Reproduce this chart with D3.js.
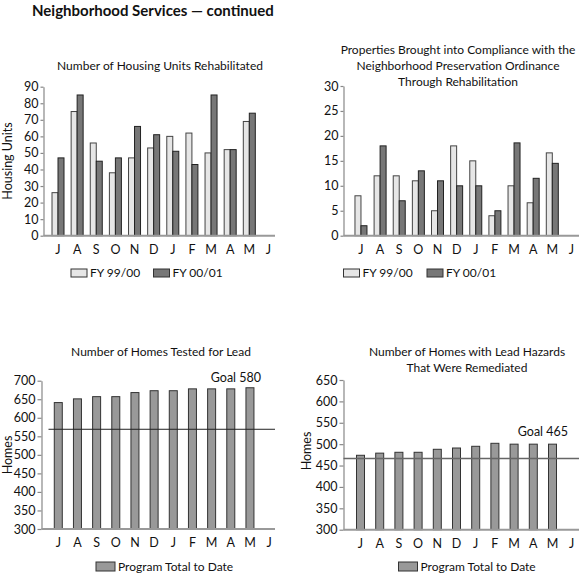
<!DOCTYPE html>
<html><head><meta charset="utf-8">
<script src="https://cdn.jsdelivr.net/npm/d3@7"></script>
<style>
body{margin:0;background:#fff;}
text{font-family:Lato,"Open Sans",sans-serif;fill:#111;}
</style></head>
<body>
<svg id="c" width="579" height="575"></svg>
<script>
const months = ["J","A","S","O","N","D","J","F","M","A","M","J"];
const monthKeys = months.map((m,i)=>i);
const seriesNames = ["FY 99/00","FY 00/01"];
const rehabFY9900 = [26,75,56,38,47,53,60,62,50,52,69];
const rehabFY0001 = [47,85,45,47,66,61,51,43,85,52,74];
const complFY9900 = [8,12,12,11,5,18,15,4,10,6.6,16.6];
const complFY0001 = [2,18,7,13,11,10,10,5,18.6,11.5,14.5];
const leadTested = [641,651,657,657,668,673,673,678,678,678,681];
const leadRemediated = [474,479,481,481,488,491,495,502,500,500,500];
const ticksRehab = d3.range(0,91,10);
const ticksCompl = d3.range(0,31,5);
const ticksTested = d3.range(300,701,50);
const ticksRemed = d3.range(300,651,50);
const goalTested = {label:"Goal 580", line:569};
const goalRemed = {label:"Goal 465", line:466.5};
const legendBottom = "Program Total to Date";

const svg = d3.select("#c");
const LIGHT="#e6e6e6", DARK="#777", MID="#999";

svg.append("text").attr("x",32).attr("y",16).attr("font-size",15).attr("font-weight","bold")
  .text("Neighborhood Services \u2014 continued");

function chart(o){
  const g = svg.append("g");
  const x = d3.scaleBand().domain(monthKeys).range(o.band);
  const y = d3.scaleLinear().domain(o.domain).range(o.yr);
  const ya = g.append("g").attr("transform",`translate(${o.ax},0)`)
    .call(d3.axisLeft(y).tickValues(o.ticks).tickSize(o.tick||3).tickPadding(2).tickSizeOuter(0));
  ya.select(".domain").attr("stroke","#888").attr("stroke-width",1.2);
  ya.selectAll(".tick line").attr("stroke","#888").attr("stroke-width",1.2);
  ya.selectAll(".tick text").attr("font-size",12.5).attr("font-family","Lato,sans-serif").attr("fill","#111");
  const xa = g.append("g").attr("transform",`translate(0,${o.yr[0]})`)
    .call(d3.axisBottom(x).tickFormat(i=>months[i]).tickSize(0).tickPadding(o.xpad||9));
  xa.select(".domain").remove();
  xa.selectAll(".tick text").attr("font-size",12.5).attr("font-family","Lato,sans-serif").attr("fill","#111");
  if(o.series.length===2){
    const x1 = d3.scaleBand().domain([0,1]).range([-6,6]);
    o.series.forEach((s,si)=>{
      g.append("g").selectAll("rect").data(s).join("rect")
        .attr("x",(d,i)=>x(i)+x.bandwidth()/2+x1(si))
        .attr("width",x1.bandwidth())
        .attr("y",d=>y(d)).attr("height",d=>y(o.domain[0])-y(d))
        .attr("fill",si?DARK:LIGHT).attr("stroke",si?"#222":"#444").attr("stroke-width",1);
    });
  } else {
    g.append("g").selectAll("rect").data(o.series[0]).join("rect")
      .attr("x",(d,i)=>x(i)+x.bandwidth()/2-4)
      .attr("width",8)
      .attr("y",d=>y(d)).attr("height",d=>y(o.domain[0])-y(d))
      .attr("fill",MID).attr("stroke","#333").attr("stroke-width",1);
  }
  g.append("line").attr("x1",o.ax).attr("x2",o.xend).attr("y1",o.yr[0]).attr("y2",o.yr[0])
    .attr("stroke","#999").attr("stroke-width",2);
  if(o.goal){
    g.append("line").attr("x1",o.ax+ (o.goalOff||0)).attr("x2",o.xend).attr("y1",y(o.goal.line)).attr("y2",y(o.goal.line))
      .attr("stroke",o.goalColor||"#222").attr("stroke-width",o.goalW||1);
    g.append("text").attr("x",o.goalX).attr("y",o.goalY).attr("text-anchor","end").attr("font-size",12.5).text(o.goal.label);
  }
  o.title.forEach((t,i)=>g.append("text").attr("x",o.tx).attr("y",o.ty+i*16).attr("text-anchor","middle")
    .attr("font-size",12).text(t));
  if(o.ylab) g.append("text").attr("transform",`translate(${o.ylx},${o.yly}) rotate(-90)`)
    .attr("text-anchor","middle").attr("font-size",12.5).text(o.ylab);
  o.legend.forEach((l,i)=>{
    g.append("rect").attr("x",l.x).attr("y",l.y).attr("width",l.w).attr("height",l.h)
      .attr("fill",l.fill).attr("stroke","#333").attr("stroke-width",1);
    g.append("text").attr("x",l.x+l.w+3).attr("y",l.y+l.h).attr("font-size",12).text(l.text);
  });
}

chart({band:[48.44,278],ax:43.5,xend:275,domain:[0,90],yr:[235.7,86.7],ticks:ticksRehab,
  series:[rehabFY9900,rehabFY0001],title:["Number of Housing Units Rehabilitated"],tx:160,ty:70,
  ylab:"Housing Units",ylx:12,yly:161,
  legend:[{x:71,y:269,w:16,h:8,fill:LIGHT,text:seriesNames[0]},{x:153.5,y:269,w:16,h:8,fill:DARK,text:seriesNames[1]}]});

chart({band:[351.4,581],ax:343.5,xend:579,domain:[0,30],yr:[235.7,86],ticks:ticksCompl,
  series:[complFY9900,complFY0001],
  title:["Properties Brought into Compliance with the","Neighborhood Preservation Ordinance","Through Rehabilitation"],tx:458,ty:54,
  legend:[{x:343.5,y:269,w:16,h:8,fill:LIGHT,text:seriesNames[0]},{x:427,y:269,w:16,h:8,fill:DARK,text:seriesNames[1]}]});

chart({band:[48.7,278.7],ax:41.5,xend:275,domain:[300,700],yr:[529,380.7],ticks:ticksTested,tick:4,
  series:[leadTested],title:["Number of Homes Tested for Lead"],tx:161,ty:356,
  goal:goalTested,goalX:261,goalY:382,goalOff:7,
  ylab:"Homes",ylx:12,yly:455,
  legend:[{x:96,y:562,w:19,h:9,fill:MID,text:legendBottom}]});

chart({band:[350.9,581.3],ax:343.5,xend:579,domain:[300,650],yr:[529.7,380],ticks:ticksRemed,tick:4,
  series:[leadRemediated],title:["Number of Homes with Lead Hazards","That Were Remediated"],tx:467,ty:356,
  goal:goalRemed,goalX:568,goalY:436,goalOff:0,goalColor:"#666",goalW:1.5,
  ylab:"Homes",ylx:311,yly:451,
  legend:[{x:398.5,y:562,w:19,h:9,fill:MID,text:legendBottom}]});
</script>
</body></html>
